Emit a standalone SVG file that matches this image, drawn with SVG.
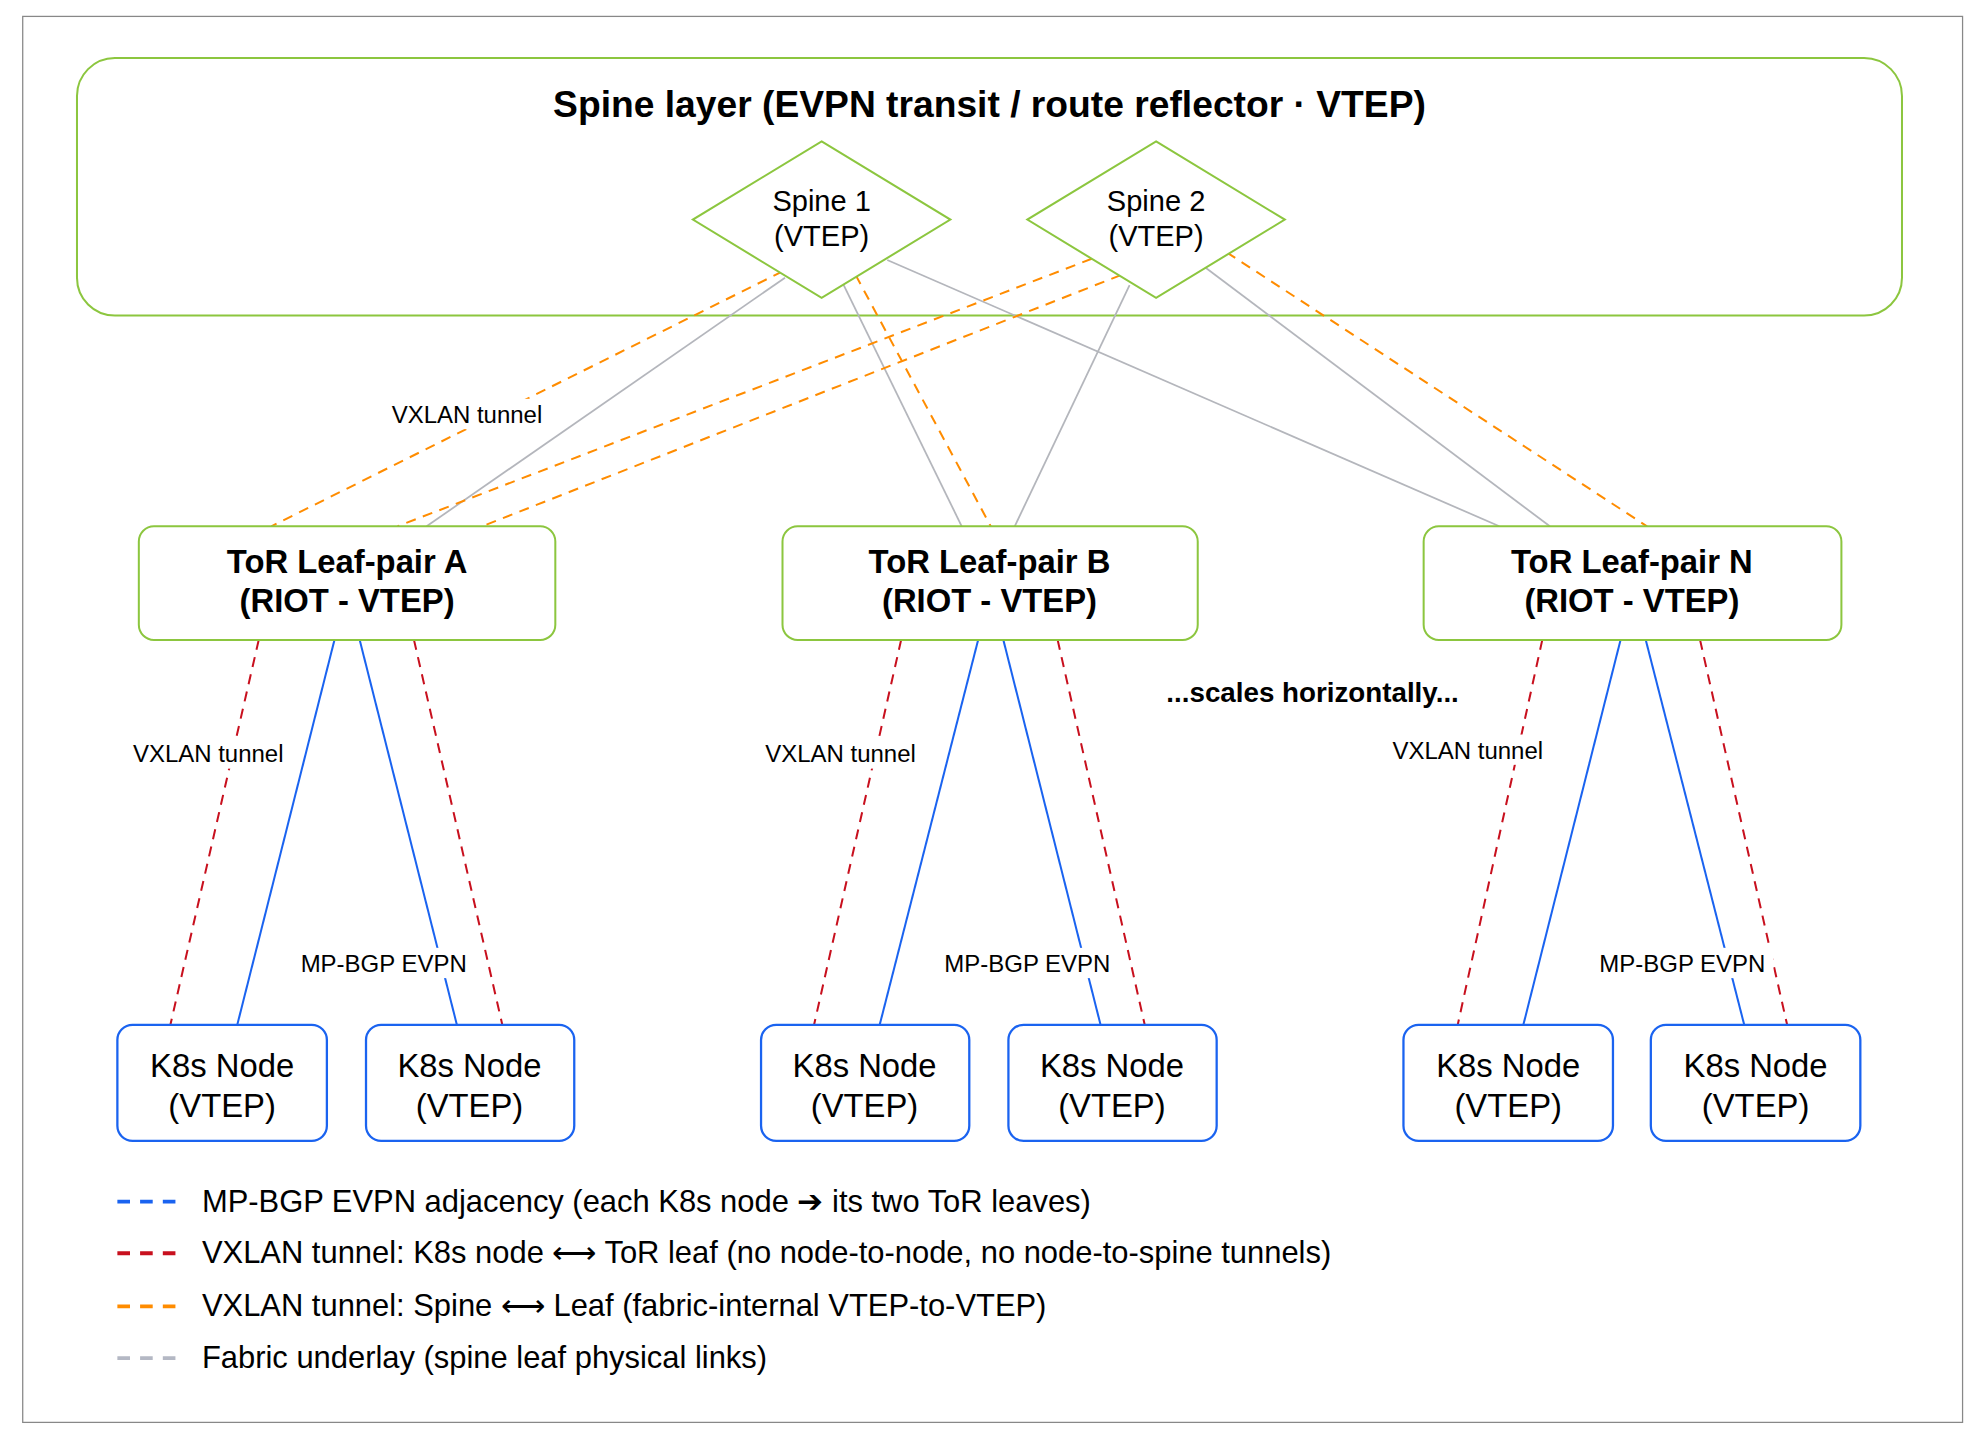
<svg xmlns="http://www.w3.org/2000/svg" width="1979" height="1454" viewBox="0 0 1979 1454">
<style>
text{font-family:"Liberation Sans",Arial,sans-serif;fill:#000}
.grn{fill:#fff;stroke:#8cc63f;stroke-width:1.6}
.k8s{fill:#fff;stroke:#1a63f0;stroke-width:1.8}
.g{stroke:#b4b6bc;stroke-width:1.4;fill:none}
.o{stroke:#ff8c00;stroke-width:1.6;stroke-dasharray:8 6;fill:none}
.r{stroke:#c8101e;stroke-width:1.6;stroke-dasharray:8 6;fill:none}
.b{stroke:#1a63f0;stroke-width:1.6;fill:none}
.lb{font-size:19px;text-anchor:middle}
.lf{font-size:26px;font-weight:bold;text-anchor:middle}
.kn{font-size:26px;text-anchor:middle}
.sp{font-size:23px;text-anchor:middle}
.lg{font-size:24.5px}
</style>
<rect width="1979" height="1454" fill="#fff"/>
<g transform="scale(1.2621)">
<rect x="18" y="13" width="1537" height="1114" fill="none" stroke="#888" stroke-width="1"/>
<g id="spine-layer">
<rect class="grn" x="61" y="46" width="1446" height="204" rx="30"/>
<text x="784" y="93" font-size="29.5" font-weight="bold" text-anchor="middle">Spine layer (EVPN transit / route reflector · VTEP)</text>
</g>
<g id="connectors">
<line class="g" x1="622" y1="220" x2="338" y2="417"/>
<line class="g" x1="668" y1="225" x2="762" y2="417"/>
<line class="g" x1="703" y1="206" x2="1188" y2="417"/>
<line class="g" x1="895" y1="226" x2="804" y2="417"/>
<line class="g" x1="955" y1="212" x2="1228" y2="417"/>
<line class="o" x1="620" y1="215" x2="215" y2="417"/>
<line class="o" x1="678" y1="218" x2="785" y2="417"/>
<line class="o" x1="865" y1="205" x2="315" y2="417"/>
<line class="o" x1="888" y1="218" x2="382" y2="417"/>
<line class="o" x1="972" y1="200" x2="1305" y2="417"/>
<rect x="303" y="316" width="134" height="24" fill="#fff"/>
<text class="lb" x="370" y="335">VXLAN tunnel</text>
<line class="r" x1="205" y1="507" x2="135" y2="812"/>
<line class="b" x1="265" y1="507" x2="188" y2="812"/>
<line class="b" x1="285" y1="507" x2="362" y2="812"/>
<line class="r" x1="328" y1="507" x2="398" y2="812"/>
<line class="r" x1="714" y1="507" x2="645" y2="812"/>
<line class="b" x1="775" y1="507" x2="697" y2="812"/>
<line class="b" x1="795" y1="507" x2="872" y2="812"/>
<line class="r" x1="838" y1="507" x2="907" y2="812"/>
<line class="r" x1="1222" y1="507" x2="1155" y2="812"/>
<line class="b" x1="1284" y1="507" x2="1207" y2="812"/>
<line class="b" x1="1304" y1="507" x2="1382" y2="812"/>
<line class="r" x1="1347" y1="507" x2="1416" y2="812"/>
<rect x="98" y="585" width="134" height="24" fill="#fff"/>
<text class="lb" x="165" y="604">VXLAN tunnel</text>
<rect x="599" y="585" width="134" height="24" fill="#fff"/>
<text class="lb" x="666" y="604">VXLAN tunnel</text>
<rect x="1096" y="582" width="134" height="24" fill="#fff"/>
<text class="lb" x="1163" y="601">VXLAN tunnel</text>
<rect x="232" y="751" width="144" height="24" fill="#fff"/>
<text class="lb" x="304" y="770">MP-BGP EVPN</text>
<rect x="742" y="751" width="144" height="24" fill="#fff"/>
<text class="lb" x="814" y="770">MP-BGP EVPN</text>
<rect x="1261" y="751" width="144" height="24" fill="#fff"/>
<text class="lb" x="1333" y="770">MP-BGP EVPN</text>
</g>
<g id="spine1"><polygon class="grn" points="651,112 753,174 651,236 549,174"/><text class="sp" x="651" y="167">Spine 1</text><text class="sp" x="651" y="195">(VTEP)</text></g>
<g id="spine2"><polygon class="grn" points="916,112 1018,174 916,236 814,174"/><text class="sp" x="916" y="167">Spine 2</text><text class="sp" x="916" y="195">(VTEP)</text></g>
<g id="leafA"><rect class="grn" x="110" y="417" width="330" height="90" rx="12"/><text class="lf" x="275" y="454">ToR Leaf-pair A</text><text class="lf" x="275" y="485">(RIOT - VTEP)</text></g>
<g id="leafB"><rect class="grn" x="620" y="417" width="329" height="90" rx="12"/><text class="lf" x="784" y="454">ToR Leaf-pair B</text><text class="lf" x="784" y="485">(RIOT - VTEP)</text></g>
<g id="leafN"><rect class="grn" x="1128" y="417" width="331" height="90" rx="12"/><text class="lf" x="1293" y="454">ToR Leaf-pair N</text><text class="lf" x="1293" y="485">(RIOT - VTEP)</text></g>
<text x="1040" y="556" font-size="22" font-weight="bold" text-anchor="middle">...scales horizontally...</text>
<g id="k1"><rect class="k8s" x="93" y="812" width="166" height="92" rx="12"/><text class="kn" x="176" y="853">K8s Node</text><text class="kn" x="176" y="885">(VTEP)</text></g>
<g id="k2"><rect class="k8s" x="290" y="812" width="165" height="92" rx="12"/><text class="kn" x="372" y="853">K8s Node</text><text class="kn" x="372" y="885">(VTEP)</text></g>
<g id="k3"><rect class="k8s" x="603" y="812" width="165" height="92" rx="12"/><text class="kn" x="685" y="853">K8s Node</text><text class="kn" x="685" y="885">(VTEP)</text></g>
<g id="k4"><rect class="k8s" x="799" y="812" width="165" height="92" rx="12"/><text class="kn" x="881" y="853">K8s Node</text><text class="kn" x="881" y="885">(VTEP)</text></g>
<g id="k5"><rect class="k8s" x="1112" y="812" width="166" height="92" rx="12"/><text class="kn" x="1195" y="853">K8s Node</text><text class="kn" x="1195" y="885">(VTEP)</text></g>
<g id="k6"><rect class="k8s" x="1308" y="812" width="166" height="92" rx="12"/><text class="kn" x="1391" y="853">K8s Node</text><text class="kn" x="1391" y="885">(VTEP)</text></g>
<g id="legend">
<line x1="93" y1="952" x2="143" y2="952" stroke="#1a63f0" stroke-width="3" stroke-dasharray="10 8"/>
<line x1="93" y1="993" x2="143" y2="993" stroke="#c8101e" stroke-width="3" stroke-dasharray="10 8"/>
<line x1="93" y1="1035" x2="143" y2="1035" stroke="#ff8c00" stroke-width="3" stroke-dasharray="10 8"/>
<line x1="93" y1="1076" x2="143" y2="1076" stroke="#b4b8c4" stroke-width="3" stroke-dasharray="10 8"/>
<text class="lg" x="160" y="960">MP-BGP EVPN adjacency (each K8s node ➔ its two ToR leaves)</text>
<text class="lg" x="160" y="1001">VXLAN tunnel: K8s node ⟷ ToR leaf (no node-to-node, no node-to-spine tunnels)</text>
<text class="lg" x="160" y="1043">VXLAN tunnel: Spine ⟷ Leaf (fabric-internal VTEP-to-VTEP)</text>
<text class="lg" x="160" y="1084">Fabric underlay (spine leaf physical links)</text>
</g>
</g>
</svg>
